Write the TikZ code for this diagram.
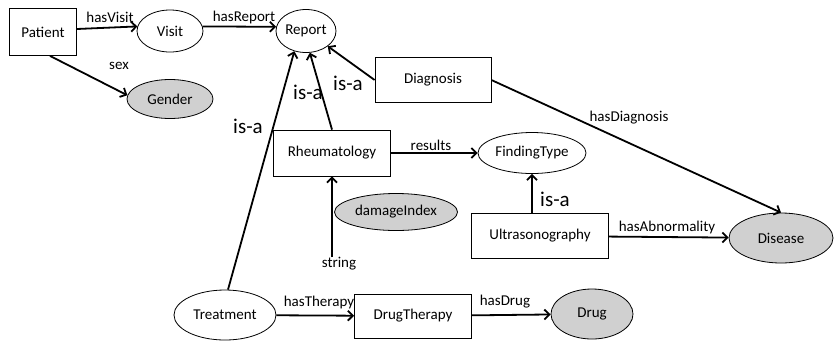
\documentclass[tikz,border=0pt]{standalone}
\usepackage{fontspec}
\setmainfont{Carlito}
\usetikzlibrary{shapes.geometric,arrows.meta}
\definecolor{fillgray}{RGB}{208,208,208}
\begin{document}
\begin{tikzpicture}[x=1pt,y=-1pt,
  every node/.style={font=\fontsize{15}{18}\selectfont, inner sep=0pt},
  box/.style={draw, line width=0.8pt, rectangle},
  ell/.style={draw, line width=0.8pt, ellipse},
  lit/.style={ell, fill=fillgray},
  arr/.style={line width=1.8pt, -{Straight Barb[length=5pt,width=10pt]}},
  isa/.style={font=\fontsize{21}{24}\selectfont}]
\useasboundingbox (0,0) rectangle (835,341);
% nodes
\node[box, minimum width=67pt, minimum height=47pt] (Patient) at (43,32) {Patient};
\node[ell, minimum width=66pt, minimum height=42pt] (Visit) at (170,31) {Visit};
\node[ell, minimum width=60pt, minimum height=43pt] (Report) at (306,31) {Report};
\node[lit, minimum width=86pt, minimum height=39pt] (Gender) at (170,99) {Gender};
\node[box, minimum width=116pt, minimum height=45pt] (Diagnosis) at (433,80) {Diagnosis};
\node[box, minimum width=117pt, minimum height=46pt] (Rheum) at (332,153) {Rheumatology};
\node[ell, minimum width=108pt, minimum height=41pt] (Finding) at (532,153) {FindingType};
\node[lit, minimum width=123pt, minimum height=37pt] (damage) at (396,212) {damageIndex};
\node[box, minimum width=137pt, minimum height=45pt] (Ultra) at (540,236) {Ultrasonography};
\node[lit, minimum width=104pt, minimum height=50pt] (Disease) at (781,238) {Disease};
\node[ell, minimum width=102pt, minimum height=50pt] (Treatment) at (225,315) {Treatment};
\node[box, minimum width=117pt, minimum height=44pt] (DrugTh) at (413,316) {DrugTherapy};
\node[lit, minimum width=82pt, minimum height=50pt] (Drug) at (592,314) {Drug};
\node (string) at (339,264) {string};
% labels
\node (lVisit) at (110,17) {hasVisit};
\node (lReport) at (244,17) {hasReport};
\node (lsex) at (119,66) {sex};
\node[isa] (isa1) at (248,126) {is-a};
\node[isa] (isa2) at (308,92) {is-a};
\node[isa] (isa3) at (348,83) {is-a};
\node (lres) at (431,145) {results};
\node (ldiag) at (629,118) {hasDiagnosis};
\node[isa] (isa4) at (555,199) {is-a};
\node (labn) at (667,227) {hasAbnormality};
\node (lther) at (319,302) {hasTherapy};
\node (ldrug) at (505,302) {hasDrug};
% connectors
\draw[arr] ([yshift=3pt]Patient.east) -- (Visit.172);
\draw[arr] (Visit.8) -- (Report.172);
\draw[arr] ([xshift=7pt]Patient.south) -- (Gender.175);
\draw[arr] ([xshift=3pt]Treatment.north) -- (Report.240);
\draw[arr] (Rheum.north) -- (Report.280);
\draw[arr] (Diagnosis.west) -- (Report.-35);
\draw[arr] (Rheum) -- (Finding);
\draw[arr] (Diagnosis.east) -- (Disease.north);
\draw[arr] (Ultra.north -| Finding.south) -- (Finding.south);
\draw[arr] (Ultra) -- (Disease);
\draw[arr] (Rheum.south |- string.north) -- (Rheum.south);
\draw[arr] (Treatment) -- (DrugTh);
\draw[arr] (DrugTh) -- (Drug);
\end{tikzpicture}
\end{document}
